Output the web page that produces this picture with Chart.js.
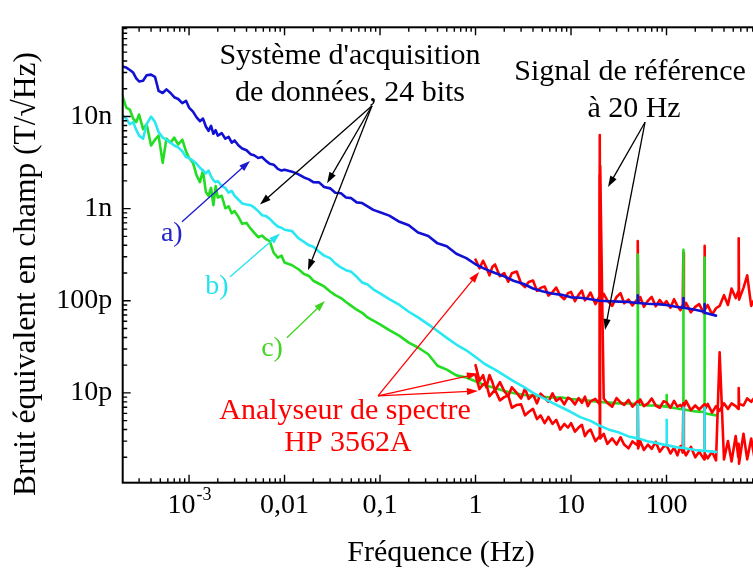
<!DOCTYPE html>
<html>
<head>
<meta charset="utf-8">
<script src="https://cdn.jsdelivr.net/npm/chart.js@4/dist/chart.umd.min.js"></script>
<style>
html,body{margin:0;padding:0;background:#fff;overflow:hidden;width:753px;height:575px}
#wrap{position:absolute;left:0;top:0;width:775px;height:575px}
</style>
</head>
<body>
<div id="wrap"><canvas id="c" width="775" height="575"></canvas></div>
<script>
// ---------- DATA (frequencies in Hz, noise in T/sqrt(Hz)) ----------
const freqDAQ = [
 2.0e-4,2.2e-4,2.4e-4,2.6e-4,2.8e-4,3.0e-4,3.3e-4,3.6e-4,4.0e-4,4.4e-4,4.8e-4,5.3e-4,5.8e-4,6.4e-4,7.0e-4,7.7e-4,8.5e-4,9.3e-4,
 1.0e-3,1.1e-3,1.2e-3,1.3e-3,1.4e-3,1.5e-3,1.6e-3,1.7e-3,1.8e-3,1.9e-3,2.0e-3,2.2e-3,2.4e-3,2.6e-3,2.8e-3,3.0e-3,3.3e-3,3.6e-3,4.0e-3,4.4e-3,4.8e-3,5.3e-3,5.8e-3,6.4e-3,7.0e-3,7.7e-3,8.5e-3,9.3e-3,
 0.010,0.012,0.014,0.016,0.018,0.020,0.023,0.026,0.030,0.034,0.039,0.044,0.050,0.057,0.065,0.074,0.085,
 0.10,0.125,0.16,0.20,0.25,0.32,0.40,0.50,0.63,0.80,
 1.0,1.25,1.6,2.0,2.5,3.2,4.0,5.0,6.3,8.0,
 10,12.5,16,20,25,32,40,49.5,50,50.5,63,80,
 99,100,101,125,149,150,151,200,249,250,251,330
];
// a) acquisition system, curve a (blue)
const daqA = [
 3.5e-8,3.4e-8,3.2e-8,3.0e-8,2.6e-8,2.4e-8,2.45e-8,2.8e-8,2.85e-8,2.7e-8,1.9e-8,1.8e-8,1.97e-8,1.8e-8,1.62e-8,1.55e-8,1.4e-8,1.48e-8,
 1.25e-8,1.13e-8,9.8e-9,8.9e-9,9.5e-9,7.8e-9,7.0e-9,7.9e-9,6.5e-9,7.1e-9,6.2e-9,6.6e-9,5.75e-9,6.0e-9,5.2e-9,5.5e-9,4.85e-9,4.5e-9,4.3e-9,3.9e-9,3.8e-9,3.55e-9,3.63e-9,3.3e-9,3.07e-9,3.0e-9,2.7e-9,2.59e-9,
 2.65e-9,2.52e-9,2.36e-9,2.18e-9,2.08e-9,1.94e-9,1.93e-9,1.72e-9,1.66e-9,1.49e-9,1.47e-9,1.32e-9,1.3e-9,1.17e-9,1.15e-9,1.06e-9,9.7e-10,
 9.15e-10,8.4e-10,7.2e-10,6.6e-10,5.5e-10,5.05e-10,4.2e-10,3.9e-10,3.24e-10,2.9e-10,
 2.49e-10,2.22e-10,2.0e-10,1.84e-10,1.65e-10,1.52e-10,1.36e-10,1.27e-10,1.2e-10,1.16e-10,
 1.09e-10,1.08e-10,1.04e-10,1.0e-10,9.9e-11,9.8e-11,9.7e-11,9.45e-11,1.15e-10,9.45e-11,9.3e-11,9.2e-11,
 9.0e-11,9.0e-11,9.0e-11,8.6e-11,8.4e-11,1.07e-10,8.4e-11,8.0e-11,7.6e-11,9.2e-11,7.4e-11,6.9e-11
];
// b) curve b (cyan)
const daqB = [
 1.03e-8,9.5e-9,8.25e-9,8.7e-9,7.15e-9,6.2e-9,5.75e-9,8.25e-9,1.0e-8,8.7e-9,6.8e-9,5.9e-9,5.6e-9,5.2e-9,4.85e-9,4.63e-9,4.2e-9,3.63e-9,
 3.55e-9,3.3e-9,3.07e-9,2.78e-9,2.59e-9,2.41e-9,2.59e-9,2.24e-9,2.03e-9,1.94e-9,1.99e-9,1.76e-9,1.68e-9,1.49e-9,1.56e-9,1.38e-9,1.25e-9,1.14e-9,1.11e-9,1.09e-9,1.03e-9,9.4e-10,8.5e-10,8.3e-10,7.75e-10,7.0e-10,6.4e-10,6.2e-10,
 5.9e-10,5.7e-10,4.77e-10,4.35e-10,4.0e-10,3.85e-10,3.4e-10,3.09e-10,2.9e-10,2.55e-10,2.3e-10,2.15e-10,2.06e-10,1.82e-10,1.58e-10,1.5e-10,1.33e-10,
 1.2e-10,1.04e-10,9.0e-11,7.6e-11,6.6e-11,5.55e-11,4.7e-11,3.96e-11,3.35e-11,2.9e-11,
 2.45e-11,2.06e-11,1.79e-11,1.55e-11,1.34e-11,1.16e-11,1.0e-11,8.9e-12,7.85e-12,6.95e-12,
 6.2e-12,5.46e-12,4.97e-12,4.4e-12,3.99e-12,3.71e-12,3.37e-12,3.21e-12,7.5e-12,3.21e-12,2.99e-12,2.85e-12,
 2.71e-12,5.09e-12,2.71e-12,2.58e-12,2.52e-12,6.95e-12,2.52e-12,2.4e-12,2.35e-12,6.95e-12,2.35e-12,2.29e-12
];
// c) curve c (green)
const daqC = [
 1.7e-8,1.25e-8,1.19e-8,9.5e-9,8.7e-9,1.05e-8,7.3e-9,8.25e-9,4.85e-9,5.6e-9,6.2e-9,3.14e-9,5.75e-9,5.2e-9,5.9e-9,4.97e-9,5.6e-9,4.2e-9,
 3.55e-9,3.14e-9,2.3e-9,1.94e-9,2.59e-9,1.52e-9,1.38e-9,1.68e-9,1.09e-9,1.76e-9,1.32e-9,1.38e-9,1.01e-9,1.06e-9,8.9e-10,9.4e-10,8.1e-10,6.85e-10,7.0e-10,6.1e-10,5.5e-10,4.9e-10,5.1e-10,4.66e-10,4.44e-10,3.32e-10,2.94e-10,3.09e-10,
 2.6e-10,2.43e-10,2.2e-10,1.95e-10,1.86e-10,1.65e-10,1.53e-10,1.43e-10,1.26e-10,1.15e-10,1.07e-10,9.7e-11,8.8e-11,8.0e-11,7.4e-11,6.6e-11,6.1e-11,
 5.55e-11,4.8e-11,4.16e-11,3.51e-11,3.11e-11,2.63e-11,1.97e-11,1.79e-11,1.55e-11,1.47e-11,
 1.34e-11,1.21e-11,1.13e-11,1.05e-11,1.0e-11,9.5e-12,9.3e-12,9.1e-12,8.9e-12,8.9e-12,
 8.6e-12,8.4e-12,8.2e-12,8.0e-12,7.85e-12,7.7e-12,7.7e-12,7.5e-12,3.17e-10,7.5e-12,7.3e-12,7.3e-12,
 7.1e-12,9.5e-12,7.1e-12,6.8e-12,6.6e-12,3.57e-10,6.6e-12,6.3e-12,6.2e-12,2.94e-10,6.0e-12,5.7e-12
];
// HP 3562A spectrum analyser
const freqHP = [
 1.0,1.1,1.2,1.3,1.4,1.5,1.6,1.8,2.0,2.2,2.4,2.7,3.0,3.3,3.6,4.0,4.4,4.8,5.3,5.8,6.4,7.0,7.7,8.5,9.3,
 10,11,12,13,14,15,16,18,19.8,20,20.2,22,24,27,30,33,36,40,44,49.5,50,50.5,53,58,64,70,77,85,93,
 100,110,120,130,140,148,150,152,160,180,200,220,248,250,252,270,300,330,360,400,440,480,530,565,570,575,640,700,770,850,930,1000
];
const hpUpper = [
 2.8e-10,2.25e-10,2.72e-10,2.28e-10,1.89e-10,2.33e-10,2.48e-10,1.85e-10,2.0e-10,1.61e-10,1.99e-10,2.08e-10,1.54e-10,1.41e-10,1.6e-10,1.66e-10,1.28e-10,1.38e-10,1.43e-10,1.14e-10,1.24e-10,1.39e-10,1.14e-10,1.04e-10,1.21e-10,
 1.25e-10,9.9e-11,1.16e-10,1.29e-10,1.01e-10,1.1e-10,1.23e-10,9.2e-11,1.1e-10,6.3e-9,9.5e-11,1.19e-10,1.01e-10,8.8e-11,1.1e-10,1.21e-10,9.4e-11,1.03e-10,8.9e-11,1.04e-10,4.44e-10,9.45e-11,1.1e-10,8.6e-11,1.0e-10,1.1e-10,8.7e-11,1.02e-10,9.05e-11,
 9.9e-11,8.4e-11,1.04e-10,8.8e-11,7.9e-11,9.2e-11,3.32e-10,8.4e-11,9.5e-11,7.5e-11,8.6e-11,9.2e-11,7.2e-11,3.94e-10,8.0e-11,9.0e-11,7.1e-11,8.3e-11,8.8e-11,1.15e-10,9.0e-11,1.36e-10,1.07e-10,1.27e-10,4.77e-10,1.03e-10,1.38e-10,1.89e-10,8.8e-11,1.08e-10,8.4e-11,9.9e-11
];
const hpMiddle = [
 2.0e-11,1.35e-11,1.56e-11,1.15e-11,1.56e-11,1.31e-11,1.06e-11,1.31e-11,1.05e-11,9.2e-12,1.15e-11,1.0e-11,8.7e-12,1.12e-11,8.6e-12,9.6e-12,7.7e-12,9.8e-12,8.8e-12,8.0e-12,9.9e-12,8.2e-12,8.8e-12,7.5e-12,8.9e-12,
 8.5e-12,7.5e-12,8.8e-12,7.8e-12,9.1e-12,7.2e-12,8.1e-12,8.6e-12,7.6e-12,7.9e-12,2.9e-9,8.7e-12,7.8e-12,7.1e-12,8.8e-12,7.9e-12,7.4e-12,8.4e-12,7.1e-12,8.1e-12,7.8e-12,7.5e-12,8.5e-12,7.2e-12,7.7e-12,8.7e-12,7.3e-12,6.9e-12,8.1e-12,
 7.9e-12,6.9e-12,8.2e-12,7.1e-12,7.4e-12,6.9e-12,7.7e-12,7.0e-12,8.2e-12,6.5e-12,7.3e-12,6.6e-12,7.5e-12,6.9e-12,6.6e-12,7.6e-12,6.1e-12,7.2e-12,6.4e-12,7.7e-12,6.7e-12,7.7e-12,7.2e-12,6.7e-12,1.13e-11,7.6e-12,7.3e-12,8.7e-12,8.0e-12,9.1e-12,9.0e-12,8.5e-12
];
const hpLower = [
 1.56e-11,1.1e-11,1.24e-11,1.25e-11,9.2e-12,1.0e-11,1.08e-11,8.3e-12,9.0e-12,9.4e-12,6.9e-12,7.4e-12,7.5e-12,5.7e-12,6.2e-12,6.7e-12,5.2e-12,5.7e-12,4.7e-12,5.5e-12,4.6e-12,5.1e-12,4.0e-12,4.6e-12,4.2e-12,
 4.7e-12,3.8e-12,4.2e-12,4.5e-12,3.4e-12,3.8e-12,4.0e-12,3.0e-12,3.35e-12,2.3e-9,3.2e-12,3.6e-12,2.8e-12,3.2e-12,2.75e-12,3.3e-12,2.75e-12,2.5e-12,2.97e-12,2.7e-12,7.85e-12,2.5e-12,3.0e-12,2.4e-12,2.75e-12,2.47e-12,2.95e-12,2.3e-12,2.6e-12,
 2.7e-12,2.2e-12,2.55e-12,2.1e-12,2.65e-12,2.25e-12,6.95e-12,2.35e-12,2.1e-12,2.6e-12,2.0e-12,2.3e-12,1.9e-12,6.2e-12,2.2e-12,1.95e-12,2.3e-12,1.85e-12,2.76e-11,1.9e-12,3.0e-12,1.8e-12,3.4e-12,2.0e-12,2.8e-12,1.7e-12,3.6e-12,1.9e-12,3.2e-12,1.75e-12,2.9e-12,2.1e-12
];
// tick labels
const xTickValues = [1e-3, 0.01, 0.1, 1, 10, 100];
const xTickText   = ['10|-3', '0,01', '0,1', '1', '10', '100'];
const yTickValues = [1e-11, 1e-10, 1e-9, 1e-8];
const yTickText   = ['10p', '100p', '1n', '10n'];

// annotations (in data coordinates)
const notes = [
 {text:"Système d'acquisition", f:0.0485, v:4.5e-8, color:'#000'},
 {text:'de données, 24 bits', f:0.0485, v:1.79e-8, color:'#000'},
 {text:'Signal de référence', f:41.5, v:3.05e-8, color:'#000'},
 {text:'à 20 Hz', f:45.7, v:1.19e-8, color:'#000'},
 {text:'a)', f:6.6e-4, v:5.3e-10, color:'#2626c4', size:28},
 {text:'b)', f:1.96e-3, v:1.42e-10, color:'#22e2ee', size:28},
 {text:'c)', f:7.4e-3, v:3.0e-11, color:'#44d422', size:28},
 {text:'Analyseur de spectre', f:0.043, v:6.4e-12, color:'#ff0000'},
 {text:'HP 3562A', f:0.0462, v:2.85e-12, color:'#ff0000'}
];
const arrows = [
 {from:[0.0824,1.31e-8], to:[5.53e-3,1.11e-9], color:'#000'},
 {from:[0.0824,1.31e-8], to:[0.0279,1.89e-9], color:'#000'},
 {from:[0.0824,1.31e-8], to:[0.0176,2.15e-10], color:'#000'},
 {from:[59.6,8.67e-9], to:[24.4,1.72e-9], color:'#000'},
 {from:[59.6,8.67e-9], to:[22.7,4.81e-11], color:'#000'},
 {from:[8.45e-4,7.2e-10], to:[4.35e-3,3.3e-9], color:'#1a1ad0'},
 {from:[2.69e-3,1.82e-10], to:[8.97e-3,5.38e-10], color:'#22e2ee'},
 {from:[0.0106,3.96e-11], to:[0.0265,9.93e-11], color:'#3cd41e'},
 {from:[0.0953,9.3e-12], to:[1.09,2.05e-10], color:'#ff0000'},
 {from:[0.0953,9.3e-12], to:[1.06,1.62e-11], color:'#ff0000'},
 {from:[0.0953,9.3e-12], to:[1.06,1.05e-11], color:'#ff0000'}
];

// ---------- CHART ----------
const SERIF = '"Liberation Serif", "Times New Roman", serif';
const pts = (xs, ys) => xs.map((x, i) => ({x, y: ys[i]}));

const framePlugin = {
  id: 'frame',
  afterDatasetsDraw(chart) {
    const {ctx, chartArea: a, scales: {x, y}} = chart;
    ctx.save();
    ctx.strokeStyle = '#000';
    ctx.lineWidth = 2;
    ctx.strokeRect(a.left, a.top, a.right - a.left, a.bottom - a.top);
    ctx.lineWidth = 1.4;
    ctx.beginPath();
    for (let e = -5; e <= 3; e++) for (let m = 1; m <= 9; m++) {
      const v = m * Math.pow(10, e);
      if (v < x.min || v > x.max) continue;
      const p = x.getPixelForValue(v), L = m === 1 ? 8 : 4.5;
      ctx.moveTo(p, a.bottom); ctx.lineTo(p, a.bottom - L);
      ctx.moveTo(p, a.top); ctx.lineTo(p, a.top + L);
    }
    for (let e = -13; e <= -7; e++) for (let m = 1; m <= 9; m++) {
      const v = m * Math.pow(10, e);
      if (v < y.min || v > y.max) continue;
      const p = y.getPixelForValue(v), L = m === 1 ? 8 : 4.5;
      ctx.moveTo(a.left, p); ctx.lineTo(a.left + L, p);
      ctx.moveTo(a.right, p); ctx.lineTo(a.right - L, p);
    }
    ctx.stroke();

    // superscript tick label
    ctx.fillStyle = '#000';
    ctx.textBaseline = 'middle';
    xTickText.forEach((t, i) => {
      if (t.indexOf('|') < 0) return;
      const [base, sup] = t.split('|');
      const p = x.getPixelForValue(xTickValues[i]);
      ctx.font = '28px ' + SERIF;
      const wb = ctx.measureText(base).width;
      ctx.font = '18px ' + SERIF;
      const ws = ctx.measureText(sup).width;
      const x0 = p - (wb + ws) / 2;
      ctx.textAlign = 'left';
      ctx.font = '28px ' + SERIF;
      ctx.fillText(base, x0, a.bottom + 23);
      ctx.font = '18px ' + SERIF;
      ctx.fillText(sup, x0 + wb + 1, a.bottom + 13);
    });

    // axis titles
    ctx.font = '30px ' + SERIF;
    ctx.textAlign = 'center';
    ctx.fillText('Fréquence (Hz)', 441, 553);
    ctx.save();
    ctx.translate(27, 274);
    ctx.rotate(-Math.PI / 2);
    ctx.font = '31.5px ' + SERIF;
    ctx.fillText('Bruit équivalent en champ (T/\u221AHz)', 0, 0);
    ctx.restore();

    // arrows
    arrows.forEach(ar => {
      const x1 = x.getPixelForValue(ar.from[0]), y1 = y.getPixelForValue(ar.from[1]);
      const x2 = x.getPixelForValue(ar.to[0]), y2 = y.getPixelForValue(ar.to[1]);
      const ang = Math.atan2(y2 - y1, x2 - x1);
      const hl = 11, hw = 3.6;
      ctx.strokeStyle = ar.color; ctx.fillStyle = ar.color; ctx.lineWidth = 1.3;
      ctx.beginPath();
      ctx.moveTo(x1, y1);
      ctx.lineTo(x2 - Math.cos(ang) * hl * 0.8, y2 - Math.sin(ang) * hl * 0.8);
      ctx.stroke();
      ctx.beginPath();
      ctx.moveTo(x2, y2);
      ctx.lineTo(x2 - Math.cos(ang) * hl - Math.sin(ang) * hw, y2 - Math.sin(ang) * hl + Math.cos(ang) * hw);
      ctx.lineTo(x2 - Math.cos(ang) * hl + Math.sin(ang) * hw, y2 - Math.sin(ang) * hl - Math.cos(ang) * hw);
      ctx.closePath();
      ctx.fill();
    });

    // texts
    notes.forEach(n => {
      ctx.font = (n.size || 30) + 'px ' + SERIF;
      ctx.fillStyle = n.color;
      ctx.textAlign = 'center';
      ctx.textBaseline = 'middle';
      ctx.fillText(n.text, x.getPixelForValue(n.f), y.getPixelForValue(n.v));
    });
    ctx.restore();
  }
};

const lineDs = (label, data, color) => ({
  label, data, borderColor: color, backgroundColor: color,
  borderWidth: 2.6, pointRadius: 0, tension: 0, fill: false,
  borderJoinStyle: 'round', borderCapStyle: 'round'
});

new Chart(document.getElementById('c'), {
  type: 'line',
  data: {
    datasets: [
      lineDs('a) DAQ 24 bits', pts(freqDAQ, daqA), '#1111d4'),
      lineDs('b) DAQ 24 bits', pts(freqDAQ, daqB), '#2ae8f2'),
      lineDs('HP 3562A (bas)', pts(freqHP, hpLower), '#ff0000'),
      lineDs('HP 3562A (milieu)', pts(freqHP, hpMiddle), '#ff0000'),
      lineDs('c) DAQ 24 bits', pts(freqDAQ, daqC), '#22dd22'),
      lineDs('HP 3562A (haut)', pts(freqHP, hpUpper), '#ff0000')
    ]
  },
  options: {
    responsive: false,
    animation: false,
    devicePixelRatio: 1,
    events: [],
    layout: {padding: {left: 0, top: 11.7, right: 13, bottom: 0}},
    plugins: {legend: {display: false}, tooltip: {enabled: false}},
    scales: {
      x: {
        type: 'logarithmic', position: 'bottom', min: 2.02e-4, max: 1000,
        afterFit(s) { s.height = 92.3; },
        afterBuildTicks(s) { s.ticks = xTickValues.map(v => ({value: v})); },
        grid: {display: false, drawTicks: false},
        border: {display: false},
        ticks: {
          autoSkip: false, maxRotation: 0, padding: 6, color: '#000',
          font: {family: SERIF, size: 28},
          callback(v) {
            const i = xTickValues.findIndex(t => Math.abs(t - v) / t < 1e-6);
            if (i < 0) return '';
            return xTickText[i].indexOf('|') >= 0 ? '' : xTickText[i];
          }
        }
      },
      y: {
        type: 'logarithmic', position: 'left', min: 1.06e-12, max: 9.3e-8,
        afterFit(s) { s.width = 122.7; },
        afterBuildTicks(s) { s.ticks = yTickValues.map(v => ({value: v})); },
        grid: {display: false, drawTicks: false},
        border: {display: false},
        ticks: {
          autoSkip: false, padding: 10.5, color: '#000',
          font: {family: SERIF, size: 28},
          callback(v) {
            const i = yTickValues.findIndex(t => Math.abs(t - v) / t < 1e-6);
            return i < 0 ? '' : yTickText[i];
          }
        }
      }
    }
  },
  plugins: [framePlugin]
});
</script>
</body>
</html>
